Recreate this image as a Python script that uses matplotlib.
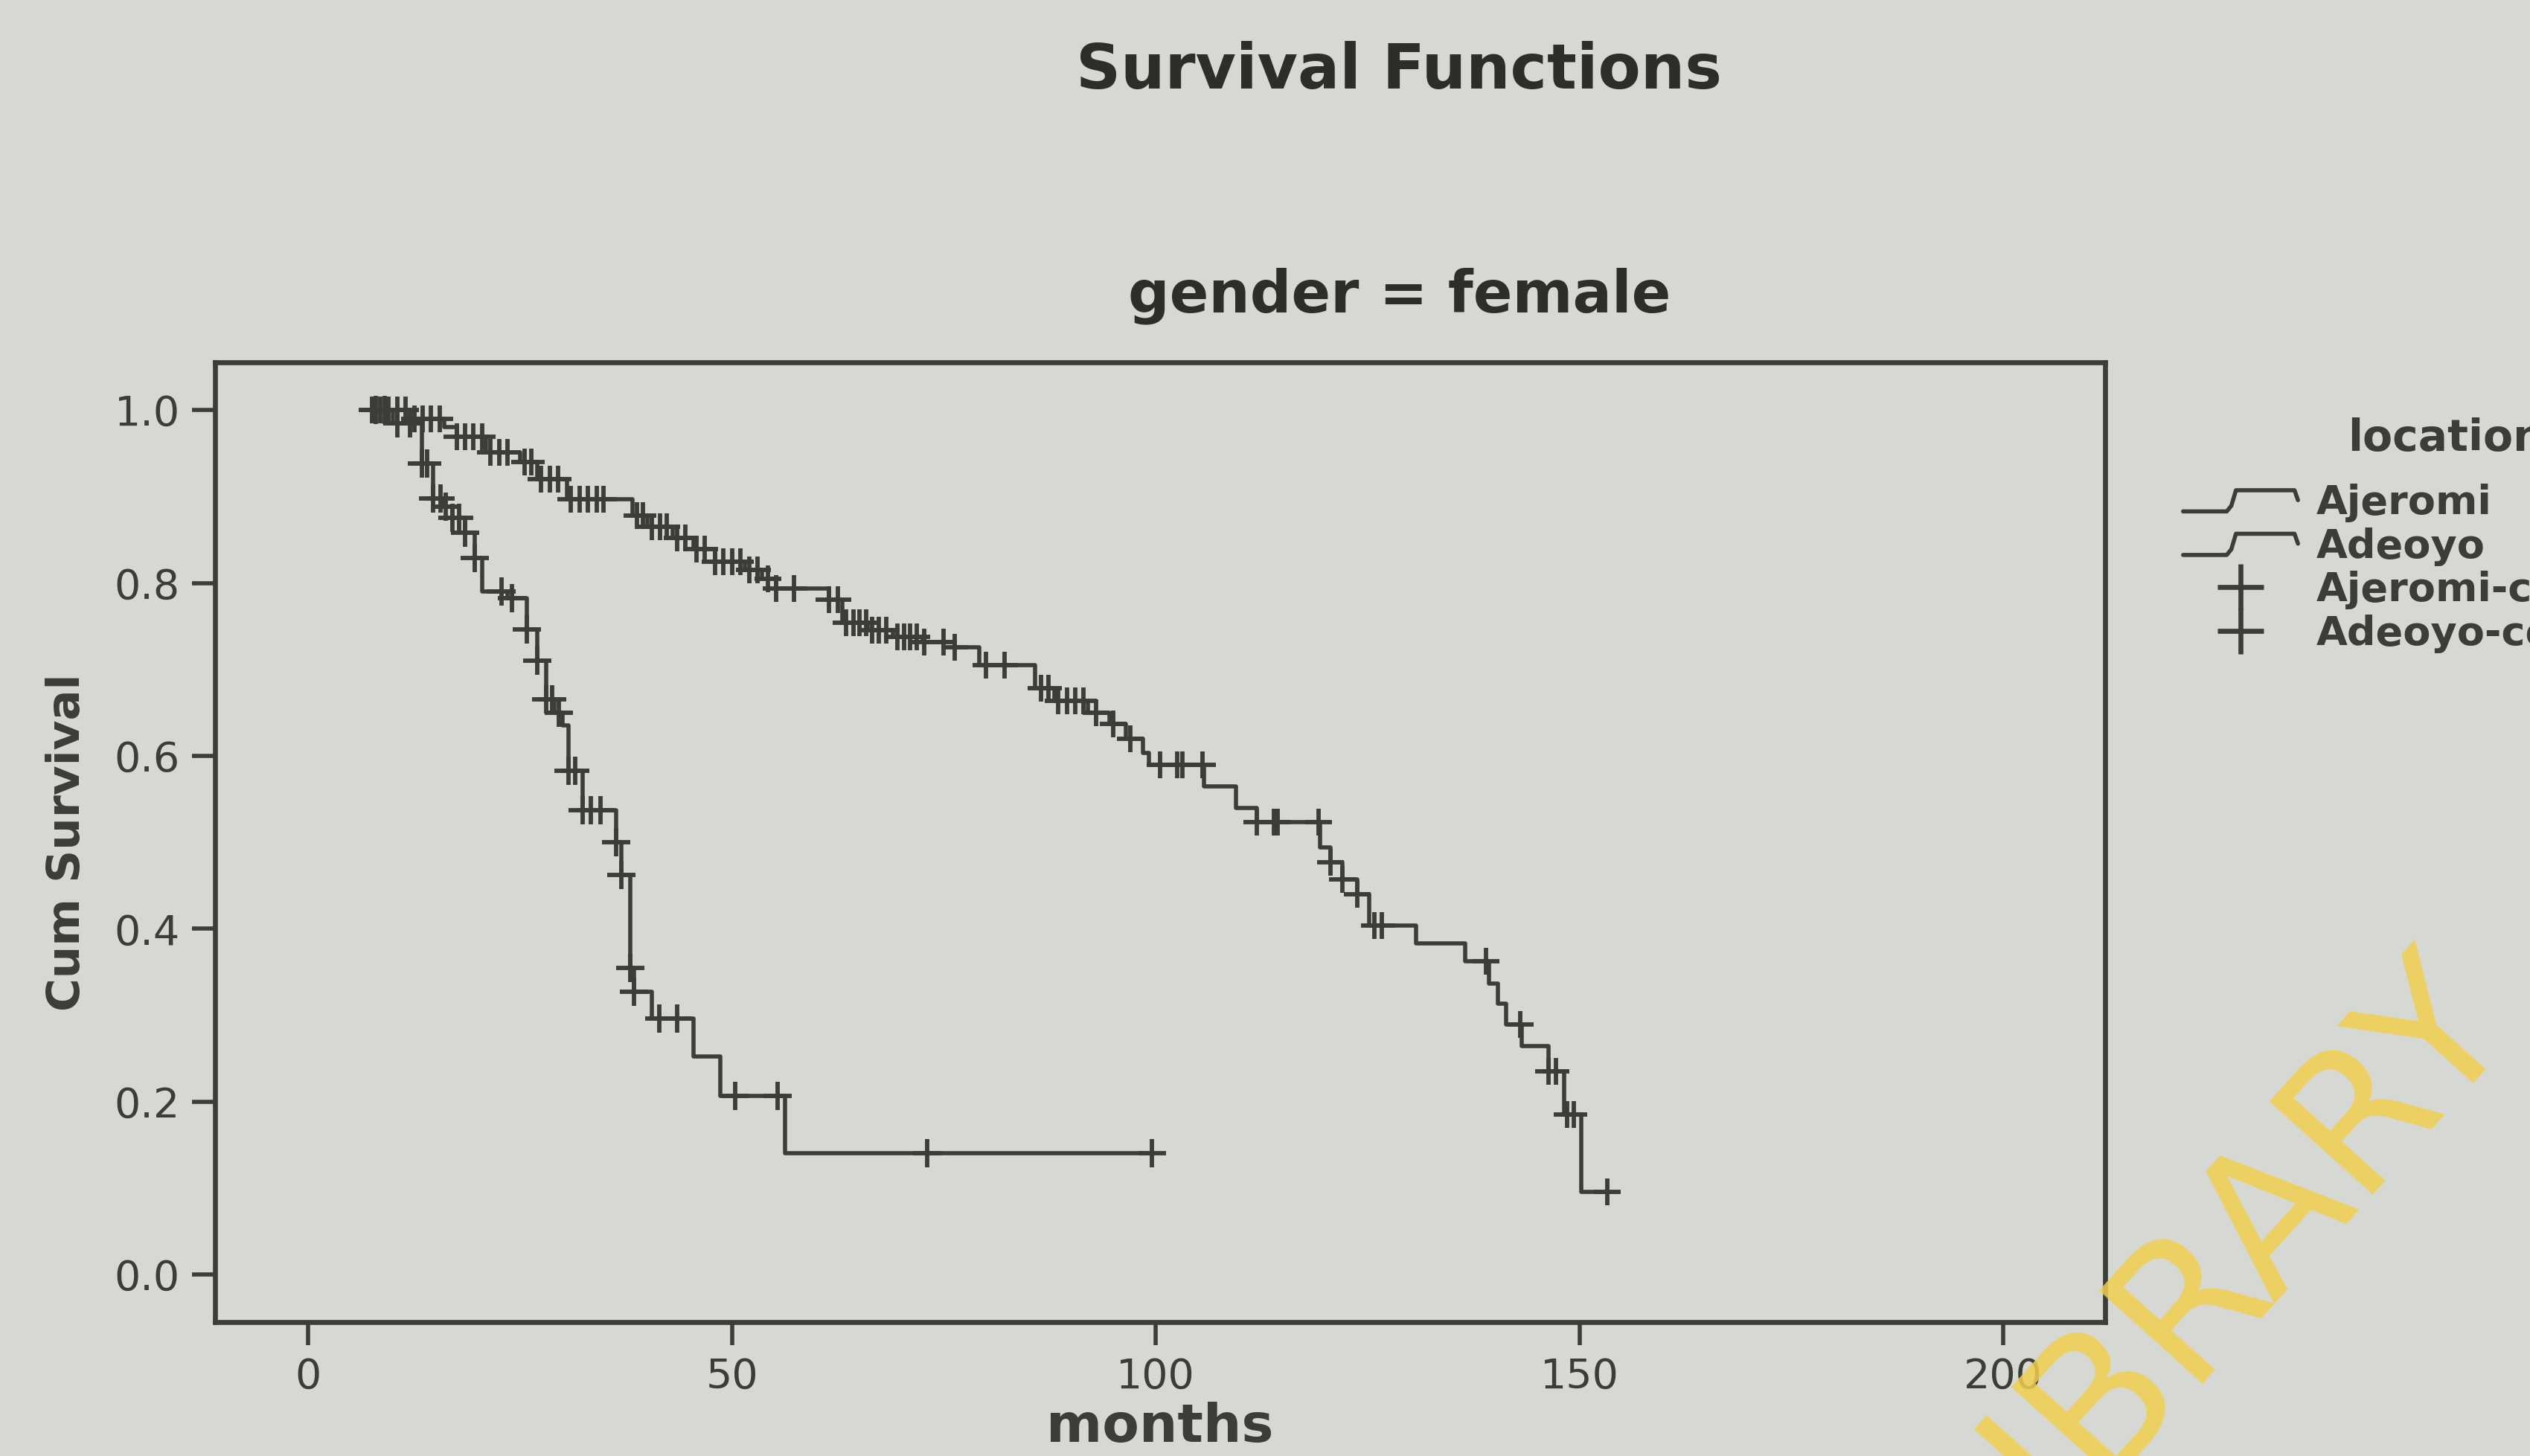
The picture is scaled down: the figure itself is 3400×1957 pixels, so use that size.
import numpy as np
import matplotlib
matplotlib.use("Agg")
import matplotlib.pyplot as plt
from matplotlib.lines import Line2D
from matplotlib.legend_handler import HandlerBase

# Kaplan-Meier steps (months, cumulative survival)
ajeromi_t = [7, 10, 13.4, 14.7, 15.8, 17.0, 18.5, 19.6, 20.5, 23.5, 25.8, 27.0, 28.1,
             29.0, 30.0, 30.7, 32.4, 36.3, 36.9, 38.0, 38.4, 40.5, 45.5, 48.6, 56.3, 99.5]
ajeromi_s = [1.0, 0.985, 0.938, 0.898, 0.888, 0.875, 0.858, 0.829, 0.79, 0.782, 0.746, 0.71, 0.665,
             0.65, 0.635, 0.583, 0.537, 0.5, 0.462, 0.355, 0.327, 0.296, 0.252, 0.207, 0.14, 0.14]
ajeromi_censored = [8, 9, 10.5, 12, 13.4, 14.0, 14.7, 15.6, 16.2, 17.0, 17.8, 18.5, 19.6, 22.8,
                    24.0, 25.8, 27.0, 28.1, 28.8, 29.6, 30.7, 31.5, 32.4, 33.3, 34.5, 36.3, 36.9,
                    38.0, 38.4, 41.4, 43.5, 50.4, 55.4, 73.0, 99.5]

adeoyo_t = [7, 12, 16, 17.5, 21, 25, 27, 30.5, 38.3, 40, 43, 45.5, 48, 51.5, 53.5, 55.2, 61.4,
            63, 66, 69, 72.5, 76.3, 79.2, 85.8, 88, 92, 94.5, 96.5, 98.5, 99.2, 105.7, 109.5,
            111.9, 119.4, 120.6, 122, 123.8, 125.2, 130.7, 136.5, 139.3, 140.4, 141.3, 143.2,
            146.3, 148.2, 150.2, 153.3]
adeoyo_s = [1.0, 0.99, 0.98, 0.969, 0.951, 0.94, 0.92, 0.897, 0.878, 0.865, 0.852, 0.839, 0.825,
            0.815, 0.805, 0.794, 0.781, 0.754, 0.745, 0.738, 0.732, 0.726, 0.705, 0.678, 0.664,
            0.65, 0.637, 0.62, 0.603, 0.59, 0.565, 0.54, 0.523, 0.494, 0.477, 0.457, 0.44, 0.404,
            0.383, 0.362, 0.337, 0.313, 0.289, 0.264, 0.235, 0.185, 0.096, 0.096]
adeoyo_censored = [7.5, 8.5, 9.5, 10.5, 11.5, 12.5, 13.5, 14.5, 15.5, 17.5, 18.5, 19.5, 20.5,
                   21.5, 22.5, 23.5, 25.5, 26.3, 27.5, 28.5, 29.5, 31.0, 32.0, 33.0, 34.0, 34.8,
                   38.8, 39.5, 40.5, 41.5, 42.3, 43.5, 44.5, 45.8, 46.8, 48.0, 49.0, 50.0, 51.0,
                   52.0, 53.0, 54.2, 55.2, 57.3, 61.4, 62.5, 63.5, 64.3, 65.0, 65.8, 66.5, 67.3,
                   68.2, 69.5, 70.3, 71.0, 71.8, 72.7, 75.0, 76.3, 80.0, 82.2, 86.5, 87.3, 88.5,
                   89.5, 90.5, 91.5, 93.0, 95.0, 97.0, 100.5, 102.5, 103.1, 105.5, 111.9, 113.9,
                   114.4, 119.2, 120.6, 122.0, 123.8, 125.8, 126.7, 139.0, 143.0, 146.3, 147.2,
                   148.5, 149.3, 153.3]

x_ticks = [0, 50, 100, 150, 200]
y_ticks = [0.0, 0.2, 0.4, 0.6, 0.8, 1.0]
groups = ["Ajeromi", "Adeoyo"]

PAPER = "#d6d9d3"
INK = "#3b3e38"


def surv_at(times, surv, points):
    # value of the step function just after each censoring time
    idx = np.searchsorted(times, points, side="right") - 1
    return np.asarray(surv)[np.clip(idx, 0, len(surv) - 1)]


class StepHandler(HandlerBase):
    """Legend key drawn as a small step, like the SPSS survival legend."""

    def create_artists(self, legend, orig_handle, xdescent, ydescent, width, height, fontsize, trans):
        x0, y0 = -xdescent, -ydescent
        xs = [x0, x0 + 0.38 * width, x0 + 0.42 * width, x0 + 0.46 * width, x0 + 0.97 * width, x0 + width]
        ys = [y0 + 0.1 * height, y0 + 0.1 * height, y0 + 0.3 * height, y0 + 0.85 * height,
              y0 + 0.85 * height, y0 + 0.5 * height]
        line = Line2D(xs, ys, color=orig_handle.get_color(), lw=orig_handle.get_linewidth(),
                      solid_joinstyle="round", solid_capstyle="round")
        line.set_transform(trans)
        return [line]


fig = plt.figure(figsize=(17, 9.785), dpi=200, facecolor=PAPER)
ax = fig.add_axes([0.085, 0.092, 0.747, 0.659], facecolor=PAPER)

line_a, = ax.step(ajeromi_t, ajeromi_s, where="post", color=INK, lw=2.0)
line_b, = ax.step(adeoyo_t, adeoyo_s, where="post", color=INK, lw=2.0)
ax.plot(ajeromi_censored, surv_at(ajeromi_t, ajeromi_s, ajeromi_censored), ls="none",
        marker="+", ms=14, mew=2.1, color=INK)
ax.plot(adeoyo_censored, surv_at(adeoyo_t, adeoyo_s, adeoyo_censored), ls="none",
        marker="+", ms=13, mew=2.1, color=INK)

ax.set_xlim(-11, 212)
ax.set_ylim(-0.055, 1.055)
ax.set_xticks(x_ticks)
ax.set_yticks(y_ticks)
ax.set_yticklabels([f"{v:.1f}" for v in y_ticks])
ax.tick_params(axis="both", direction="out", colors=INK, labelsize=20, width=2, length=11, pad=6)
for side in ax.spines.values():
    side.set_color(INK)
    side.set_linewidth(2.4)

ax.set_xlabel("months", fontsize=26, fontweight="bold", color=INK, labelpad=2)
ax.set_ylabel("Cum Survival", fontsize=22, fontweight="bold", color=INK, labelpad=12)

fig.text(0.553, 0.951, "Survival Functions", ha="center", va="center",
         fontsize=30, fontweight="bold", color="#2c2e2a")
fig.text(0.553, 0.797, "gender = female", ha="center", va="center",
         fontsize=28, fontweight="bold", color="#2c2e2a")

# legend: title and labels run off the right edge as in the print
fig.text(1455 / 1568, 1 - 272 / 903, "location", ha="left", va="center",
         fontsize=21, fontweight="bold", color=INK)
cens_a = Line2D([], [], ls="none", marker="+", ms=22, mew=2.4, color=INK)
cens_b = Line2D([], [], ls="none", marker="+", ms=22, mew=2.4, color=INK)
fig.legend([line_a, line_b, cens_a, cens_b],
           groups + [g + "-censored" for g in groups],
           loc="upper left", bbox_to_anchor=(1353 / 1568, 1 - 300 / 903),
           frameon=False, handlelength=2.85, handletextpad=0.45, labelspacing=0.12,
           borderpad=0, borderaxespad=0,
           prop={"size": 19.5, "weight": "bold"}, labelcolor=INK,
           handler_map={line_a: StepHandler(), line_b: StepHandler()})

# yellow library watermark, partly cut off at the lower edge
fig.text(0.786, -0.099, "LIBRARY", rotation=48, rotation_mode="anchor",
         ha="left", va="baseline", fontsize=92, color="#f2cf4e", alpha=0.85)

fig.savefig("out.png", dpi=200, facecolor=PAPER)
